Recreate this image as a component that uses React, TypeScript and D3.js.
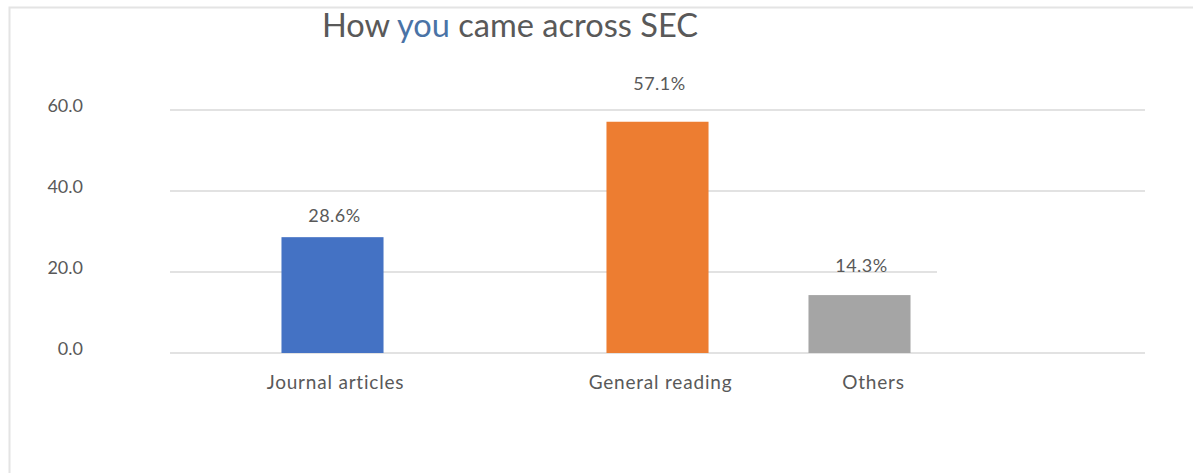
import React from "react";
import * as d3 from "d3";

// Survey: how respondents came across SEC (share of responses, %)
const categories = ["Journal articles", "General reading", "Others"];
const shares = [28.6, 57.1, 14.3];
const barColors = ["#4472C4", "#ED7D31", "#A5A5A5"];
const yTicks = [0, 20, 40, 60];

const W = 1193;
const H = 473;
const plot = { left: 170, right: 1145, top: 110, bottom: 353 };
const FONT = "Lato, 'Open Sans', 'Liberation Sans', sans-serif";
const TEXT = "#595959";

// the "Others" column sits pulled in towards the middle of the chart
const columnNudge: Record<string, number> = { Others: -123 };
const labelNudge: Record<string, number> = { Others: -112 };
// value labels were dragged to different heights above their bars
const valueLift: Record<string, number> = {
  "Journal articles": 15,
  "General reading": 32,
  Others: 23,
};
// the 20-gridline stops short on the right
const gridEnd: Record<number, number> = { 20: 937 };

export default function App() {
  const x = d3
    .scaleBand<string>()
    .domain(categories)
    .range([plot.left, plot.right])
    .paddingInner(0.686)
    .paddingOuter(0.343);

  const y = d3.scaleLinear().domain([0, 60]).range([plot.bottom, plot.top]);

  const bw = x.bandwidth();

  return (
    <svg
      width={W}
      height={H}
      style={{ position: "absolute", left: 0, top: 0, background: "#fff" }}
    >
      {/* outer frame */}
      <path
        d={`M9.5,${H + 2} V7.5 H${W + 2}`}
        fill="none"
        stroke="#e4e4e4"
        strokeWidth={2}
      />

      {/* title */}
      <text
        x={322}
        y={37}
        textLength={376}
        lengthAdjust="spacingAndGlyphs"
        fontFamily={FONT}
        fontSize={32}
        fill={TEXT}
      >
        How <tspan fill="#4a73a6">you</tspan> came across SEC
      </text>

      {/* gridlines and y tick labels */}
      {yTicks.map((t) => (
        <g key={t}>
          <line
            x1={plot.left}
            x2={gridEnd[t] ?? plot.right}
            y1={y(t)}
            y2={y(t)}
            stroke="#d9d9d9"
            strokeWidth={1.5}
          />
          <text
            x={83}
            y={y(t) + 2}
            textAnchor="end"
            fontFamily={FONT}
            fontSize={18}
            fill={TEXT}
          >
            {d3.format(".1f")(t)}
          </text>
        </g>
      ))}

      {/* bars with value labels */}
      {categories.map((c, i) => {
        const bx = (x(c) ?? 0) + (columnNudge[c] ?? 0);
        const cx = bx + bw / 2;
        return (
          <g key={c}>
            <rect
              x={bx}
              y={y(shares[i])}
              width={bw}
              height={y(0) - y(shares[i])}
              fill={barColors[i]}
            />
            <text
              x={cx + 2}
              y={y(shares[i]) - valueLift[c]}
              textAnchor="middle"
              fontFamily={FONT}
              fontSize={18}
              letterSpacing={0.5}
              fill={TEXT}
            >
              {d3.format(".1f")(shares[i])}%
            </text>
            <text
              x={(x(c) ?? 0) + bw / 2 + (labelNudge[c] ?? 0) + 3}
              y={389}
              textAnchor="middle"
              fontFamily={FONT}
              fontSize={19}
              letterSpacing={0.8}
              fill={TEXT}
            >
              {c}
            </text>
          </g>
        );
      })}
    </svg>
  );
}
